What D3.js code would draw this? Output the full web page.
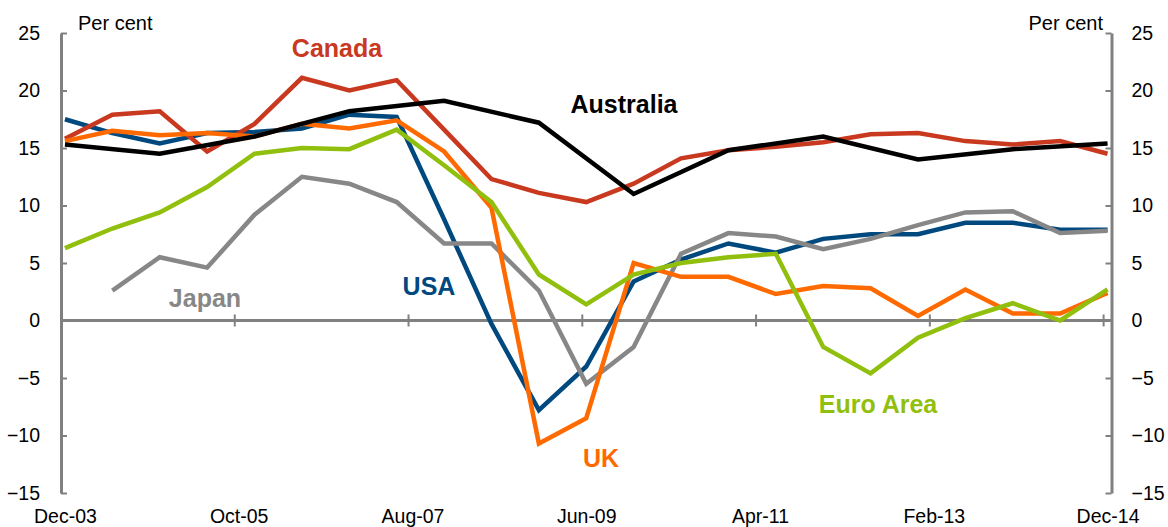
<!DOCTYPE html>
<html>
<head>
<meta charset="utf-8">
<script src="https://cdn.jsdelivr.net/npm/d3@7"></script>
<style>
  body { margin: 0; background: #fff; }
  svg { display: block; font-family: "Liberation Sans", Arial, sans-serif; }
</style>
</head>
<body>
<div id="chart"></div>
<script>
// half-yearly observations, Dec-03 .. Dec-14
const periods = ["Dec-03","Jun-04","Dec-04","Jun-05","Dec-05","Jun-06","Dec-06","Jun-07","Dec-07","Jun-08","Dec-08","Jun-09",
                 "Dec-09","Jun-10","Dec-10","Jun-11","Dec-11","Jun-12","Dec-12","Jun-13","Dec-13","Jun-14","Dec-14"];
const canada    = [15.8, 17.9, 18.2, 14.7, 17.1, 21.1, 20.0, 20.9, 16.6, 12.3, 11.1, 10.3, 11.9, 14.1, 14.8, 15.1, 15.5, 16.2, 16.3, 15.6, 15.3, 15.6, 14.5];
const australia = [15.3, null, 14.5, null, 16.0, null, 18.2, null, 19.1, null, 17.2, null, 11.0, null, 14.8, null, 16.0, null, 14.0, null, 14.9, null, 15.4];
const usa       = [17.5, 16.3, 15.4, 16.3, 16.4, 16.7, 17.9, 17.7, 8.8, -0.3, -7.8, -4.0, 3.4, 5.3, 6.7, 5.9, 7.1, 7.5, 7.5, 8.5, 8.5, 7.9, 7.9];
const uk        = [15.6, 16.5, 16.1, 16.3, 16.0, 17.1, 16.7, 17.4, 14.7, 9.8, -10.7, -8.5, 5.0, 3.8, 3.8, 2.3, 3.0, 2.8, 0.4, 2.7, 0.6, 0.6, 2.4];
const euroArea  = [6.3, 8.0, 9.4, 11.6, 14.5, 15.0, 14.9, 16.6, 13.5, 10.3, 4.0, 1.4, 4.0, 5.0, 5.5, 5.8, -2.3, -4.6, -1.5, 0.2, 1.5, 0.0, 2.7];
const japan     = [null, 2.6, 5.5, 4.6, 9.2, 12.5, 11.9, 10.3, 6.7, 6.7, 2.6, -5.5, -2.3, 5.8, 7.6, 7.3, 6.2, 7.1, 8.3, 9.4, 9.5, 7.6, 7.8];

const xTickLabels = ["Dec-03","Oct-05","Aug-07","Jun-09","Apr-11","Feb-13","Dec-14"];
const xTickMonths = [0, 22, 44, 66, 88, 110, 132];
const yTicks = [-15, -10, -5, 0, 5, 10, 15, 20, 25];

const series = [
  {name: "USA",       values: usa,       color: "#00497f", lx: 429, ly: 295},
  {name: "Japan",     values: japan,     color: "#878787", lx: 205, ly: 307},
  {name: "Canada",    values: canada,    color: "#c8391f", lx: 337, ly: 57},
  {name: "UK",        values: uk,        color: "#ff6a00", lx: 601, ly: 467},
  {name: "Euro Area", values: euroArea,  color: "#91bf0d", lx: 878, ly: 413},
  {name: "Australia", values: australia, color: "#000000", lx: 624, ly: 113}
];

const W = 1168, H = 527;
const plotL = 61, plotR = 1111.5, plotT = 33, plotB = 493;
const axisColor = "#808080";

const svg = d3.select("#chart").append("svg")
  .attr("width", W)
  .attr("height", H);

// month index from Dec-03, plotted at middle of each monthly category
const x = d3.scaleLinear().domain([0, 133]).range([plotL, plotR]);
const y = d3.scaleLinear().domain([-15, 25]).range([plotB, plotT]);

// zero line + x ticks
svg.append("line")
  .attr("x1", plotL).attr("x2", plotR)
  .attr("y1", y(0)).attr("y2", y(0))
  .attr("stroke", axisColor).attr("stroke-width", 3);

svg.selectAll(".xtick")
  .data(xTickMonths.slice(1))
  .enter().append("line")
  .attr("class", "xtick")
  .attr("x1", d => x(d)).attr("x2", d => x(d))
  .attr("y1", y(0) - 6).attr("y2", y(0) + 6)
  .attr("stroke", axisColor).attr("stroke-width", 2);

// x labels
const xLab = svg.append("g")
  .attr("transform", `translate(0, ${plotB})`)
  .call(d3.axisBottom(x)
    .tickValues(xTickMonths.map(d => d + 0.5))
    .tickFormat((d, i) => xTickLabels[i])
    .tickSize(0).tickPadding(16));
xLab.select(".domain").remove();
xLab.selectAll("text").attr("font-size", 19.5).attr("fill", "#000")
  .style("font-family", "Liberation Sans, Arial, sans-serif");

// y axes
function styleAxis(g) {
  g.select(".domain").attr("stroke", axisColor).attr("stroke-width", 3);
  g.selectAll(".tick line").attr("stroke", axisColor).attr("stroke-width", 2);
  g.selectAll("text").attr("font-size", 19.5).attr("fill", "#000")
    .style("font-family", "Liberation Sans, Arial, sans-serif");
}

svg.append("g")
  .attr("transform", `translate(${plotL}, 0)`)
  .call(d3.axisLeft(y).tickValues(yTicks).tickSizeInner(-6).tickSizeOuter(0).tickPadding(21))
  .call(styleAxis);

svg.append("g")
  .attr("transform", `translate(${plotR}, 0)`)
  .call(d3.axisRight(y).tickValues(yTicks).tickSizeInner(-6).tickSizeOuter(0).tickPadding(20))
  .call(styleAxis);

svg.append("text").attr("x", 78).attr("y", 30)
  .attr("font-size", 20).text("Per cent");
svg.append("text").attr("x", 1103).attr("y", 30)
  .attr("text-anchor", "end").attr("font-size", 20).text("Per cent");

// lines
const line = d3.line()
  .x(d => x(d.i * 6 + 0.5))
  .y(d => y(d.v));

series.forEach(s => {
  const pts = s.values.map((v, i) => ({i: i, v: v})).filter(d => d.v !== null);
  svg.append("path")
    .datum(pts)
    .attr("fill", "none")
    .attr("stroke", s.color)
    .attr("stroke-width", 4.5)
    .attr("stroke-linejoin", "miter")
    .attr("d", line);
});

// series labels
svg.selectAll(".label")
  .data(series)
  .enter().append("text")
  .attr("class", "label")
  .attr("x", d => d.lx)
  .attr("y", d => d.ly)
  .attr("text-anchor", "middle")
  .attr("font-size", 25)
  .attr("font-weight", "bold")
  .attr("fill", d => d.color)
  .text(d => d.name);
</script>
</body>
</html>
